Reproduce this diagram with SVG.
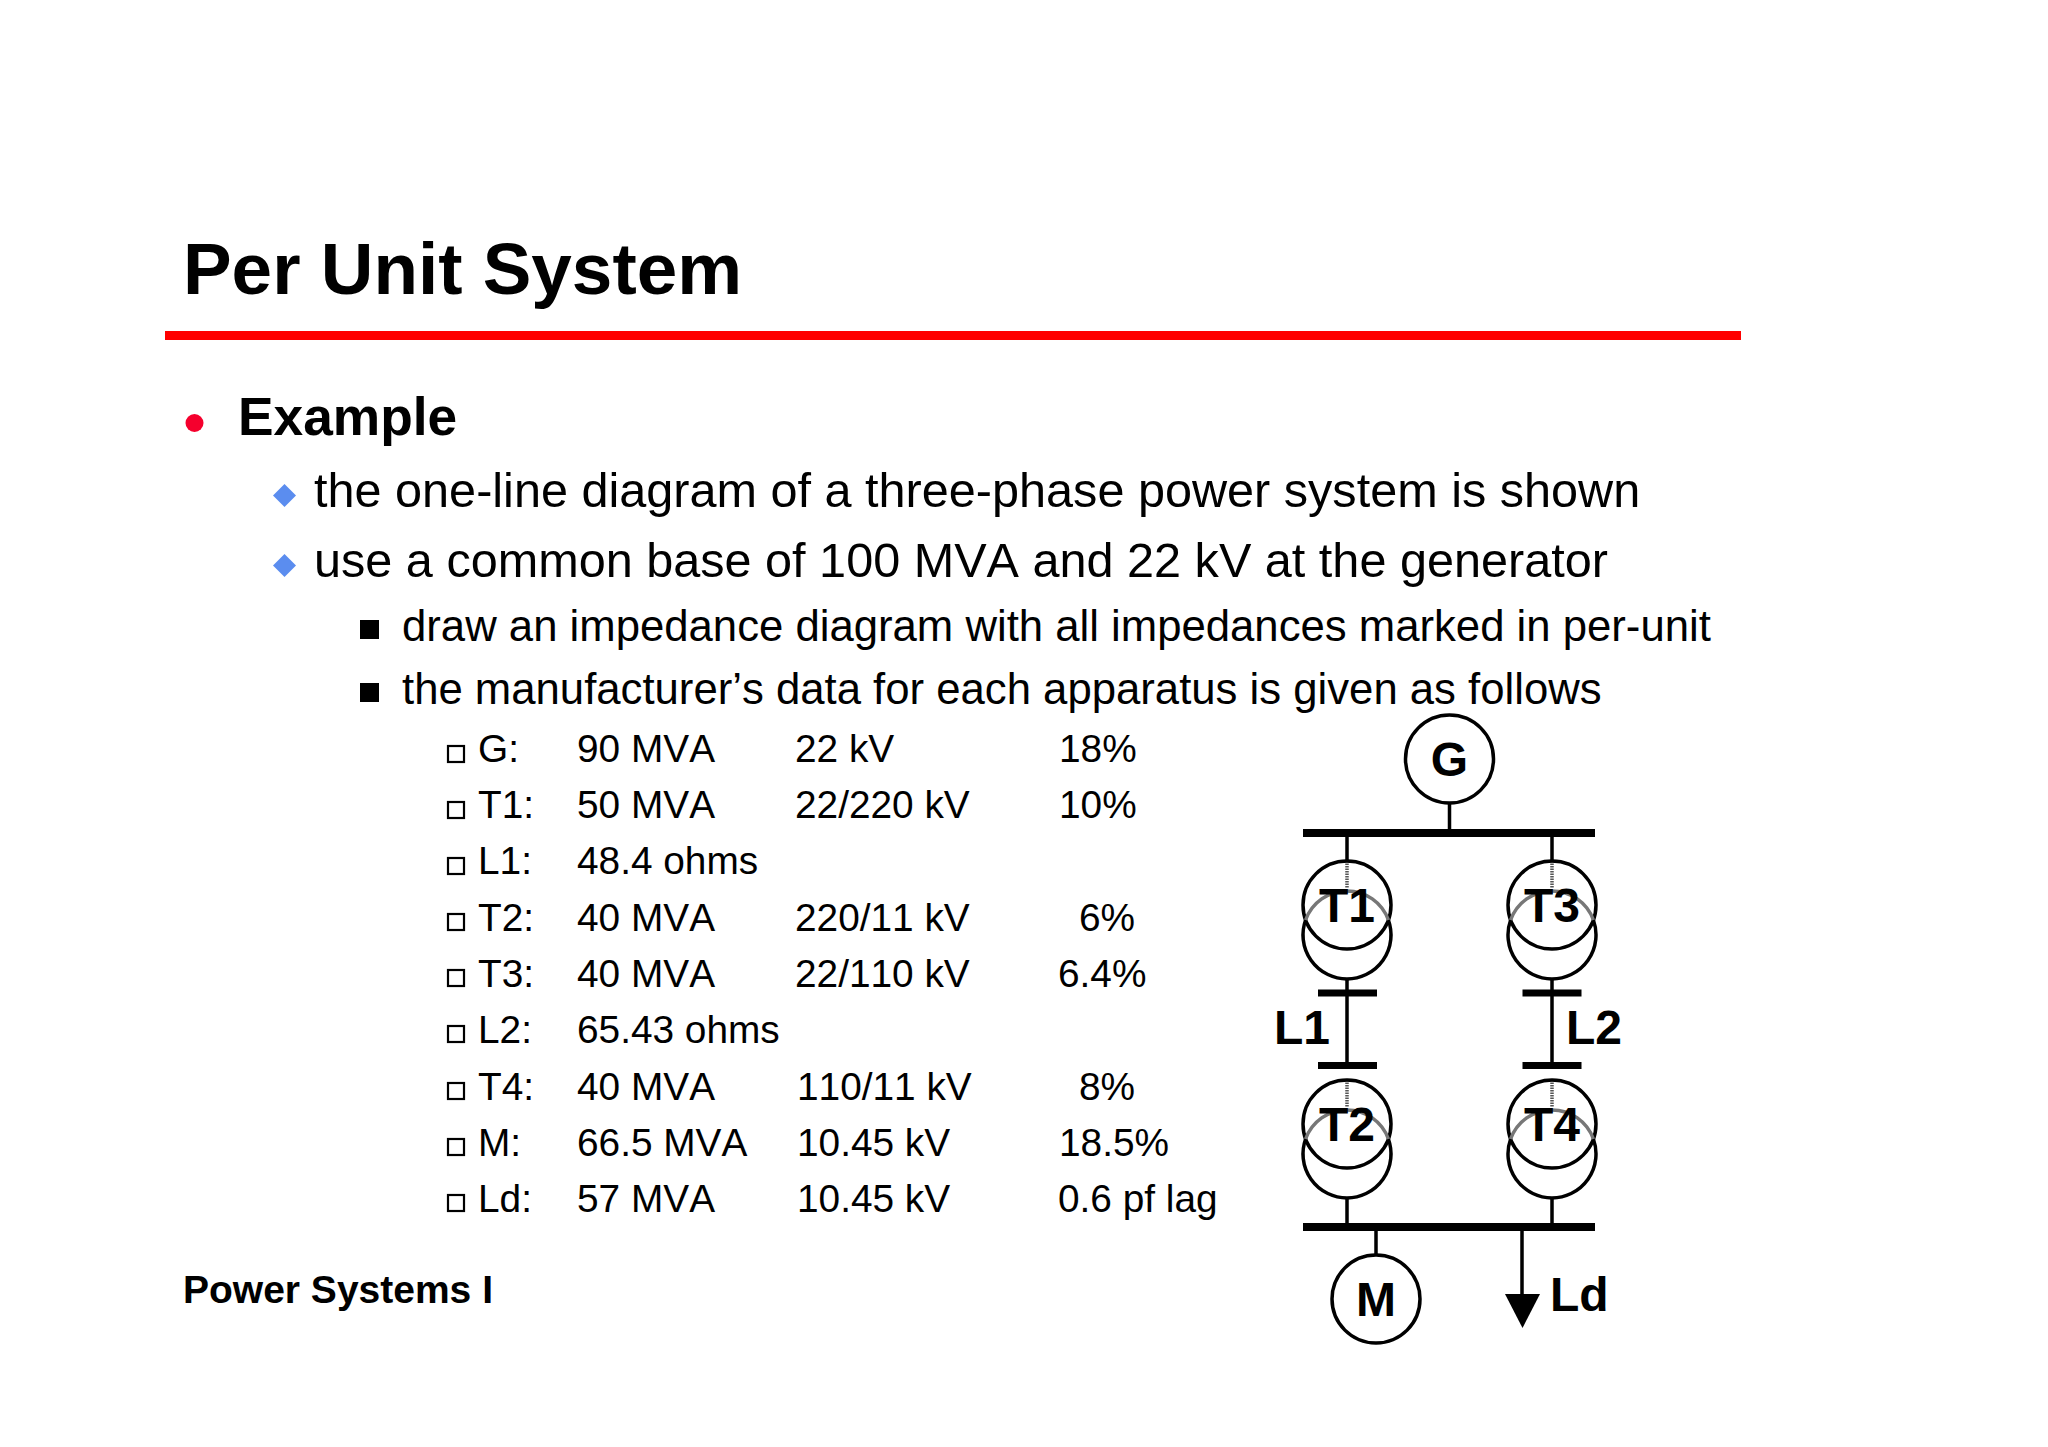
<svg xmlns="http://www.w3.org/2000/svg" width="2048" height="1447" viewBox="0 0 2048 1447">
<defs>
<style>
text{font-family:"Liberation Sans",Arial,sans-serif;fill:#000;font-kerning:none}
.b{font-weight:bold}
.t{font-size:38.8px}
.d{font-size:48.6px}
.e{font-size:43.7px}
.lb{font-weight:bold;font-size:48px}
.c{fill:none;stroke:#000;stroke-width:3.5}
.w{stroke:#000;stroke-width:3.5;fill:none}
.h{fill:none;stroke:#777;stroke-width:3.5}
.v{stroke:#555;stroke-width:3.5;stroke-dasharray:1.500 1;fill:none}
.bus{fill:#000}
.box{fill:none;stroke:#000;stroke-width:2.2}
.dia{fill:#5b8def}
</style>
</defs>
<rect width="2048" height="1447" fill="#fff"/>
<text class="b" x="183" y="294" font-size="72.900">Per Unit System</text>
<rect x="165" y="331" width="1576" height="9" fill="#ff0000"/>
<circle cx="194.500" cy="423" r="9" fill="#f5002d"/>
<text class="b" x="238" y="435" font-size="53.300">Example</text>
<polygon class="dia" points="284.500,484 296,495.500 284.500,507 273,495.500"/>
<polygon class="dia" points="284.500,554 296,565.500 284.500,577 273,565.500"/>
<text class="d" x="314" y="507">the one-line diagram of a three-phase power system is shown</text>
<text class="d" x="314" y="577">use a common base of 100 MVA and 22 kV at the generator</text>
<rect x="360" y="620" width="19" height="19"/>
<rect x="360" y="683" width="19" height="19"/>
<text class="e" x="402" y="641">draw an impedance diagram with all impedances marked in per-unit</text>
<text class="e" x="402" y="704">the manufacturer’s data for each apparatus is given as follows</text>
<g id="table">
<rect class="box" x="448" y="746" width="16" height="16"/>
<rect class="box" x="448" y="802" width="16" height="16"/>
<rect class="box" x="448" y="858" width="16" height="16"/>
<rect class="box" x="448" y="914" width="16" height="16"/>
<rect class="box" x="448" y="970" width="16" height="16"/>
<rect class="box" x="448" y="1026" width="16" height="16"/>
<rect class="box" x="448" y="1083" width="16" height="16"/>
<rect class="box" x="448" y="1139" width="16" height="16"/>
<rect class="box" x="448" y="1195" width="16" height="16"/>
<g class="t">
<text x="478" y="762">G:</text><text x="577" y="762">90 MVA</text><text x="795" y="762">22 kV</text><text x="1059" y="762">18%</text>
<text x="478" y="818">T1:</text><text x="577" y="818">50 MVA</text><text x="795" y="818">22/220 kV</text><text x="1059" y="818">10%</text>
<text x="478" y="874">L1:</text><text x="577" y="874">48.4 ohms</text>
<text x="478" y="931">T2:</text><text x="577" y="931">40 MVA</text><text x="795" y="931">220/11 kV</text><text x="1079" y="931">6%</text>
<text x="478" y="987">T3:</text><text x="577" y="987">40 MVA</text><text x="795" y="987">22/110 kV</text><text x="1058" y="987">6.4%</text>
<text x="478" y="1043">L2:</text><text x="577" y="1043">65.43 ohms</text>
<text x="478" y="1100">T4:</text><text x="577" y="1100">40 MVA</text><text x="797" y="1100">110/11 kV</text><text x="1079" y="1100">8%</text>
<text x="478" y="1156">M:</text><text x="577" y="1156">66.5 MVA</text><text x="797" y="1156">10.45 kV</text><text x="1059" y="1156">18.5%</text>
<text x="478" y="1212">Ld:</text><text x="577" y="1212">57 MVA</text><text x="797" y="1212">10.45 kV</text><text x="1058" y="1212">0.6 pf lag</text>
</g>
</g>
<text class="b" x="183" y="1303" font-size="39">Power Systems I</text>
<g id="connectors">
<path class="w" d="M1449.500 803V833M1347 833V861M1552 833V861M1347 979V1066M1552 979V1066M1347 1198V1227M1552 1198V1227M1376 1227V1255M1522 1227V1296"/>
<path class="v" d="M1347 861V888M1552 861V888M1347 1080V1107M1552 1080V1107"/>
</g>
<g id="G"><circle class="c" cx="1449.500" cy="759" r="44"/><text class="lb" text-anchor="middle" x="1449.500" y="776">G</text></g>
<g id="bus-top"><rect class="bus" x="1303" y="829" width="292" height="8"/></g>
<g id="T1"><circle class="c" cx="1347" cy="905" r="44"/><path class="c" d="M1305.600 920A44 44 0 1 0 1388.400 920"/><path class="h" d="M1305.600 920A44 44 0 0 1 1388.400 920"/><text class="lb" text-anchor="middle" x="1347" y="922">T1</text></g>
<g id="T3"><circle class="c" cx="1552" cy="905" r="44"/><path class="c" d="M1510.600 920A44 44 0 1 0 1593.400 920"/><path class="h" d="M1510.600 920A44 44 0 0 1 1593.400 920"/><text class="lb" text-anchor="middle" x="1552" y="922">T3</text></g>
<g id="bus-l1-top"><rect class="bus" x="1318" y="989.500" width="59" height="7"/></g>
<g id="bus-l2-top"><rect class="bus" x="1522.500" y="989.500" width="59" height="7"/></g>
<g id="L1"><text class="lb" x="1274" y="1044">L1</text></g>
<g id="L2"><text class="lb" x="1566" y="1044">L2</text></g>
<g id="bus-l1-bot"><rect class="bus" x="1318" y="1062" width="59" height="7"/></g>
<g id="bus-l2-bot"><rect class="bus" x="1522.500" y="1062" width="59" height="7"/></g>
<g id="T2"><circle class="c" cx="1347" cy="1124" r="44"/><path class="c" d="M1305.600 1139A44 44 0 1 0 1388.400 1139"/><path class="h" d="M1305.600 1139A44 44 0 0 1 1388.400 1139"/><text class="lb" text-anchor="middle" x="1347" y="1141">T2</text></g>
<g id="T4"><circle class="c" cx="1552" cy="1124" r="44"/><path class="c" d="M1510.600 1139A44 44 0 1 0 1593.400 1139"/><path class="h" d="M1510.600 1139A44 44 0 0 1 1593.400 1139"/><text class="lb" text-anchor="middle" x="1552" y="1141">T4</text></g>
<g id="bus-bottom"><rect class="bus" x="1303" y="1223" width="292" height="8"/></g>
<g id="M"><circle class="c" cx="1376" cy="1299" r="44"/><text class="lb" text-anchor="middle" x="1376" y="1316">M</text></g>
<g id="Ld"><polygon points="1505,1294 1540,1294 1522.500,1328"/><text class="lb" x="1550" y="1311">Ld</text></g>
</svg>
